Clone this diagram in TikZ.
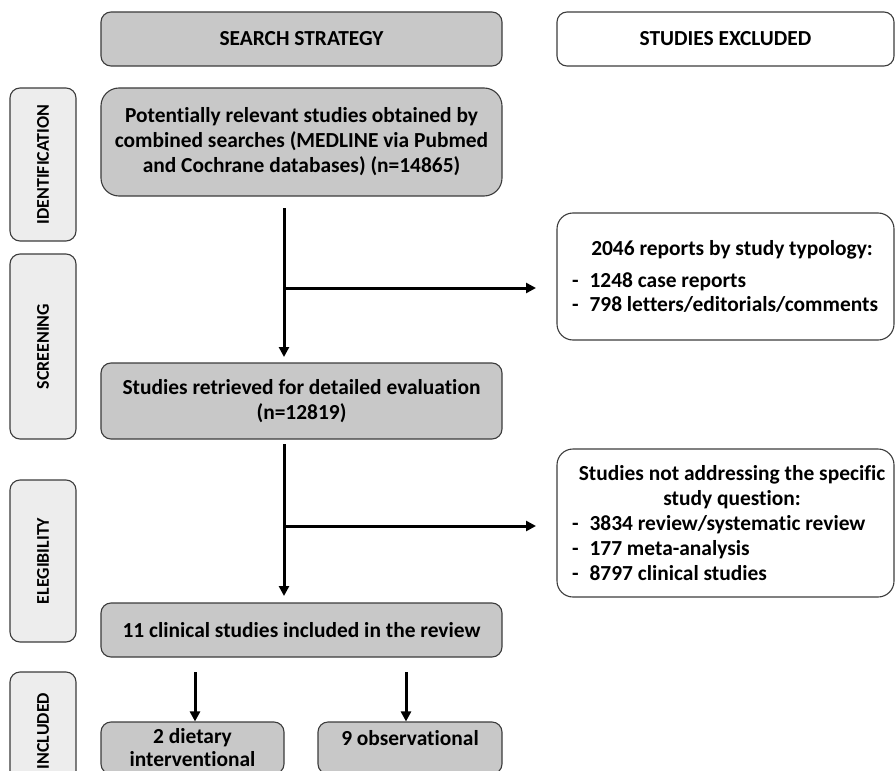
\documentclass[tikz,border=0pt]{standalone}
\usepackage{fontspec}
\setmainfont{Carlito}[Ligatures=NoCommon]
\usetikzlibrary{arrows.meta}
\definecolor{bordc}{HTML}{3C3C3C}
\definecolor{boxg}{HTML}{C8C8C8}
\definecolor{sideg}{HTML}{EDEDED}
\newcommand{\exline}[1]{\makebox[320bp][l]{\hspace*{6.5bp}-\hspace{11bp}#1}}
\newcommand{\exhead}[1]{\makebox[320bp][c]{\hspace{13bp}#1}}
\begin{document}
\begin{tikzpicture}[x=1bp,y=-1bp,
  txt/.style={font=\bfseries\fontsize{21.5}{25}\selectfont},
  mainbox/.style={txt, draw=bordc, fill=boxg, line width=1.1bp, rounded corners=10bp, align=center, inner sep=0pt},
  exbox/.style={txt, draw=bordc, fill=white, line width=1.1bp, rounded corners=16bp, align=left, inner sep=0pt},
  sidebox/.style={font=\bfseries\fontsize{18}{20}\selectfont, draw=bordc, fill=sideg, line width=1.1bp, rounded corners=10bp, rotate=90, inner sep=0pt, minimum height=66bp},
  arr/.style={line width=3bp, -{Triangle[width=10bp,length=10bp]}}
]
\useasboundingbox (0,0) rectangle (896,771);

% header boxes
\node[mainbox, minimum width=401bp, minimum height=54bp] (ss) at (301.5,39) {SEARCH STRATEGY};
\node[mainbox, fill=white, minimum width=337bp, minimum height=54bp] (se) at (725.5,39) {STUDIES EXCLUDED};

% side labels
\node[sidebox, minimum width=153bp] (sid) at (43,164.5) {IDENTIFICATION};
\node[sidebox, minimum width=185bp] (sscr) at (43,346.5) {SCREENING};
\node[sidebox, minimum width=162bp] (sel) at (43,561) {ELEGIBILITY};
\node[sidebox, minimum width=118bp] (sinc) at (43,731) {INCLUDED};

% main flow boxes
\node[mainbox, rounded corners=18bp, minimum width=401bp, minimum height=108bp] (pot) at (301.5,142)
  {Potentially relevant studies obtained by\\combined searches (MEDLINE via Pubmed\\and Cochrane databases) (n=14865)};
\node[mainbox, minimum width=401bp, minimum height=76bp] (ret) at (301.5,401)
  {Studies retrieved for detailed evaluation\\(n=12819)};
\node[mainbox, minimum width=401bp, minimum height=54bp] (clin) at (301.5,630)
  {11 clinical studies included in the review};
\node[mainbox, minimum width=183bp, minimum height=52bp] (diet) at (192.5,748)
  {2 dietary\\[-2bp]interventional};
\node[mainbox, minimum width=184bp, minimum height=52bp] (obs) at (410,748)
  {\raisebox{2.5bp}[0pt][0pt]{9 observational}};

% exclusion boxes
\node[exbox, minimum width=337bp, minimum height=127bp] (ex1) at (725.5,276.5)
  {\exhead{2046 reports by study typology:}\\[7bp]
   \exline{1248 case reports}\\
   \exline{798 letters/editorials/comments}};
\node[exbox, minimum width=337bp, minimum height=148bp] (ex2) at (725.5,523)
  {\exhead{Studies not addressing the specific}\\
   \exhead{study question:}\\
   \exline{3834 review/systematic review}\\
   \exline{177 meta-analysis}\\
   \exline{8797 clinical studies}};

% connector points
\coordinate (a1s) at (284,208);
\coordinate (a1e) at (284,357);
\coordinate (b1) at (284,288);
\coordinate (b1e) at (536,288);
\coordinate (a2s) at (284,444);
\coordinate (a2e) at (284,596);
\coordinate (b2) at (284,526);
\coordinate (b2e) at (536,526);
\coordinate (c1s) at (195,672);
\coordinate (c2s) at (406,672);

\draw[arr] (a1s) -- (a1e);
\draw[arr] (b1) -- (b1e);
\draw[arr] (a2s) -- (a2e);
\draw[arr] (b2) -- (b2e);
\draw[arr] (c1s) -- (c1s |- diet.north);
\draw[arr] (c2s) -- (c2s |- obs.north);
\end{tikzpicture}
\end{document}
